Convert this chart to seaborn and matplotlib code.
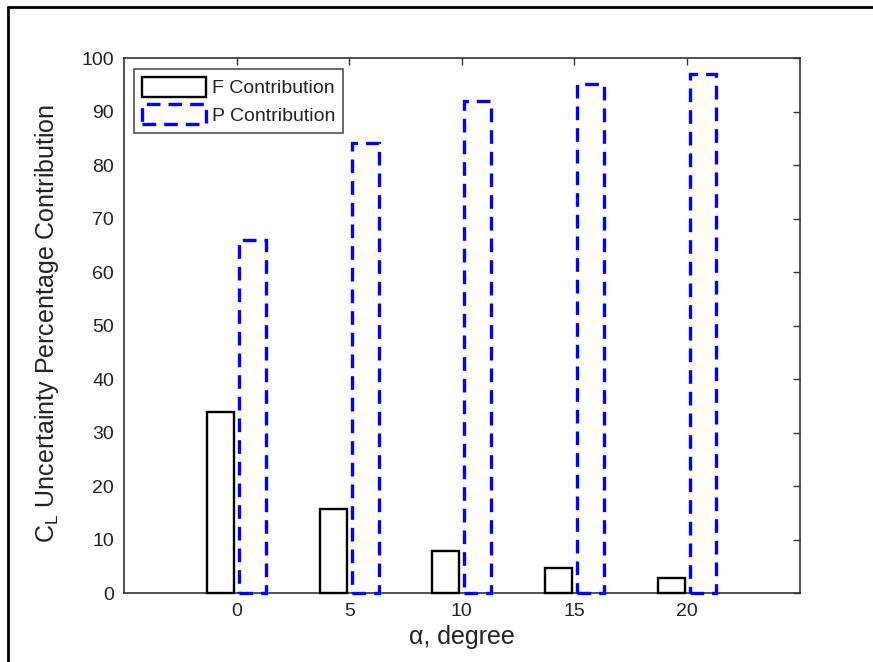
import matplotlib
matplotlib.use("Agg")
import matplotlib.pyplot as plt
import pandas as pd
import seaborn as sns
from matplotlib.lines import Line2D

# values
alpha = [0, 5, 10, 15, 20]
f_contrib = [33.9, 15.8, 7.9, 4.7, 2.9]
p_contrib = [66.1, 84.2, 92.1, 95.3, 97.1]
labels = ["F Contribution", "P Contribution"]

df = pd.DataFrame({
    "alpha": alpha * 2,
    "value": f_contrib + p_contrib,
    "source": [labels[0]] * len(alpha) + [labels[1]] * len(alpha),
})

sns.set_theme(style="white")
plt.rcParams["font.family"] = ["Liberation Sans", "DejaVu Sans"]
plt.rcParams["text.color"] = "#222222"

fig = plt.figure(figsize=(8.73, 6.62), dpi=100)
ax = fig.add_axes([0.142, 0.1038, 0.774, 0.808])

sns.barplot(data=df, x="alpha", y="value", hue="source", native_scale=True,
            palette={labels[0]: "black", labels[1]: "blue"},
            fill=False, width=0.566, gap=0.16, errorbar=None, ax=ax,
            legend=False)

styles = [dict(linewidth=1.7, linestyle="-", edgecolor="black"),
          dict(linewidth=2.4, linestyle=(0, (4.1, 2.4)), edgecolor="blue")]
for cont, st in zip(ax.containers, styles):
    for p in cont.patches:
        p.set_linewidth(st["linewidth"])
        p.set_linestyle(st["linestyle"])
        p.set_edgecolor(st["edgecolor"])
        p.set_facecolor("none")
        p.set_zorder(3)
        p.set_clip_on(False)

ax.set_xlim(-5, 25)
ax.set_ylim(0, 100)
ax.set_xticks(alpha)
ax.set_yticks(range(0, 101, 10))
ax.tick_params(direction="in", top=True, right=True, length=5, width=1,
               color="#333333", labelsize=14, labelcolor="#222222", pad=7)
for s in ax.spines.values():
    s.set_color("#333333")
    s.set_linewidth(1.2)
    s.set_visible(True)

ax.set_xlabel("α, degree", fontsize=18, color="#222222")
ax.set_ylabel(r"$\mathregular{C_L}$ Uncertainty Percentage Contribution",
              fontsize=18, color="#222222")
ax.xaxis.set_label_coords(0.5, -0.059)
ax.yaxis.set_label_coords(-0.093, 0.505)

leg = ax.legend(ax.containers, labels, loc="upper left",
                bbox_to_anchor=(0.0148, 0.980), borderaxespad=0,
                fontsize=14, frameon=True, fancybox=False,
                handlelength=3.3, handleheight=1.2, handletextpad=0.3,
                labelspacing=0.35, borderpad=0.4)
leg.get_frame().set_edgecolor("#222222")
leg.get_frame().set_linewidth(1.2)

# outer frame around the figure (left and top edges visible)
fig.add_artist(Line2D([8 / 873, 8 / 873], [0, 1 - 7 / 662], color="black",
                      linewidth=2, transform=fig.transFigure))
fig.add_artist(Line2D([8 / 873, 1], [1 - 7 / 662, 1 - 7 / 662], color="black",
                      linewidth=2, transform=fig.transFigure))

fig.savefig("out.png", dpi=100, facecolor="white")
